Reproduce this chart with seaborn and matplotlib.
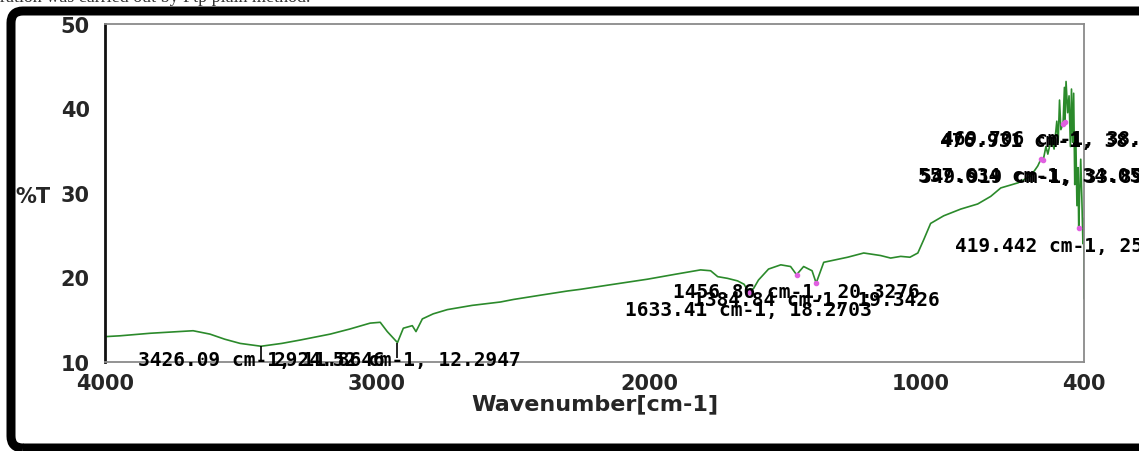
import matplotlib
matplotlib.use("Agg")
import matplotlib.pyplot as plt
from matplotlib.patches import FancyBboxPatch
from matplotlib.path import Path
from matplotlib.transforms import IdentityTransform
import seaborn as sns
import pandas as pd

# FTIR transmittance spectrum (wavenumber in cm-1, %T)
wavenumber = [4000, 3945, 3834, 3676, 3614, 3560, 3503, 3426.09, 3350, 3282,
              3172, 3100, 3025, 2988, 2962, 2924.52, 2903, 2870, 2856.46, 2833,
              2793, 2741, 2650, 2546, 2498, 2400, 2300, 2252, 2150, 2005,
              1900, 1810, 1773, 1747, 1711, 1674, 1650, 1633.41, 1615, 1597,
              1560, 1515, 1479, 1456.86, 1431, 1400, 1384.84, 1357, 1269, 1210,
              1148, 1111, 1074, 1040, 1011, 989, 964, 916, 853, 791,
              743, 706, 643, 596, 570, 557.634, 549.919, 540, 533, 520,
              510, 500, 495, 490, 485, 476.931, 472, 469.706, 466, 460,
              455, 450, 446, 442, 438, 434, 430, 426, 422, 419.442,
              416, 412, 408, 404, 401, 400]
transmittance = [13.0, 13.1, 13.4, 13.7, 13.3, 12.7, 12.2, 11.8646, 12.2, 12.6,
                 13.3, 13.9, 14.6, 14.7, 13.6, 12.2947, 14.0, 14.3, 13.6, 15.1,
                 15.7, 16.2, 16.7, 17.1, 17.4, 17.9, 18.4, 18.6, 19.1, 19.8,
                 20.4, 20.9, 20.8, 20.1, 19.9, 19.6, 19.2, 18.2703, 18.7, 19.7,
                 21.0, 21.5, 21.3, 20.3276, 21.3, 20.8, 19.3426, 21.8, 22.4, 22.9,
                 22.6, 22.3, 22.5, 22.4, 22.9, 24.5, 26.4, 27.3, 28.1, 28.7,
                 29.6, 30.6, 31.2, 32.0, 33.2, 34.0573, 33.8946, 35.5, 34.6, 36.5,
                 35.2, 38.5, 36.0, 41.0, 37.5, 38.2204, 42.5, 38.4416, 43.2, 39.5,
                 41.5, 35.5, 42.3, 36.0, 41.8, 31.0, 36.5, 28.5, 33.0, 25.8142,
                 30.0, 34.0, 29.5, 24.0, 27.0, 17.5]

# Picked peaks
peak_wn = [3426.09, 2924.52, 1633.41, 1456.86, 1384.84, 557.634, 549.919,
           476.931, 469.706, 419.442]
peak_t = [11.8646, 12.2947, 18.2703, 20.3276, 19.3426, 34.0573, 33.8946,
          38.2204, 38.4416, 25.8142]
tick_marked = [True, True, False, False, False, False, False, False, False, False]

x_ticks = [4000, 3000, 2000, 1000, 400]
x_minor = [3500, 2500, 1500, 500]
y_ticks = [10, 20, 30, 40, 50]
y_minor = [15, 25, 35, 45]

W, H = 1139, 452
fig = plt.figure(figsize=(W / 100, H / 100), dpi=100)
sns.set_style("white")
plt.rcParams["font.family"] = ["DejaVu Sans"]

ax = fig.add_axes([105 / W, (H - 363) / H, (1084 - 105) / W, (363 - 25) / H])
df = pd.DataFrame({"wn": wavenumber, "T": transmittance})
sns.lineplot(data=df, x="wn", y="T", sort=False, estimator=None,
             color="#2b8a2b", linewidth=1.2, ax=ax)

ax.set_xlim(4000, 400)
ax.set_ylim(10, 50)
ax.set_xticks(x_ticks)
ax.set_xticks(x_minor, minor=True)
ax.set_yticks(y_ticks)
ax.set_yticks(y_minor, minor=True)
tick_font = dict(fontsize=15, fontweight="bold", family="DejaVu Sans")
ax.set_xticklabels([str(v) for v in x_ticks], **tick_font)
ax.set_yticklabels([str(v) for v in y_ticks], **tick_font)
ax.tick_params(axis="y", which="major", direction="in", length=8, width=1.3,
               color="#333333", pad=11)
ax.tick_params(axis="y", which="minor", direction="in", length=6, width=1.0,
               color="#aaaaaa")
ax.tick_params(axis="x", which="major", direction="in", length=5, width=1.0,
               color="#555555", pad=8)
ax.tick_params(axis="x", which="minor", direction="in", length=2, width=1.0,
               color="#555555")
ax.set_xlabel("Wavenumber[cm-1]", fontsize=16, fontweight="bold", labelpad=0)
ax.set_ylabel("")

for side in ["top", "right", "bottom"]:
    ax.spines[side].set_color("#8a8a8a")
    ax.spines[side].set_linewidth(1.3)
ax.spines["left"].set_color("#111111")
ax.spines["left"].set_linewidth(2.0)

# peak markers
tick_down = Path([(0, 0), (0, -1)])
for w, t, m in zip(peak_wn, peak_t, tick_marked):
    if m:
        ax.plot([w], [t], marker=tick_down, markersize=22, color="black",
                markeredgewidth=1.2, linestyle="none", clip_on=False)
    else:
        ax.plot([w], [t], marker="o", markersize=3, color="#e060e0",
                linestyle="none")

# peak labels, centred on the peak, two units below it
for w, t in zip(peak_wn, peak_t):
    ax.text(w, max(t - 2.0, 10.35), f"{w:g} cm-1, {t:g}", ha="center",
            va="center", fontsize=14, fontweight="bold",
            family="DejaVu Sans Mono", color="black", clip_on=False)

fig.text(50 / W, (H - 197) / H, "%T", ha="right", va="center", **tick_font)

# document caption running above the figure
fig.text(0.0, (H - 1.5) / H, "ration was carried out by Ftp plain method.",
         ha="left", va="baseline", fontsize=13, family="Liberation Serif",
         color="#333333")

# rounded black frame around the plot panel
frame = FancyBboxPatch((11, 3), 1160, 437,
                       boxstyle="round,pad=0,rounding_size=12",
                       transform=IdentityTransform(), fill=False,
                       edgecolor="black", linewidth=9 * 72 / 100, zorder=10)
fig.patches.append(frame)

fig.savefig("out.png", dpi=100)
